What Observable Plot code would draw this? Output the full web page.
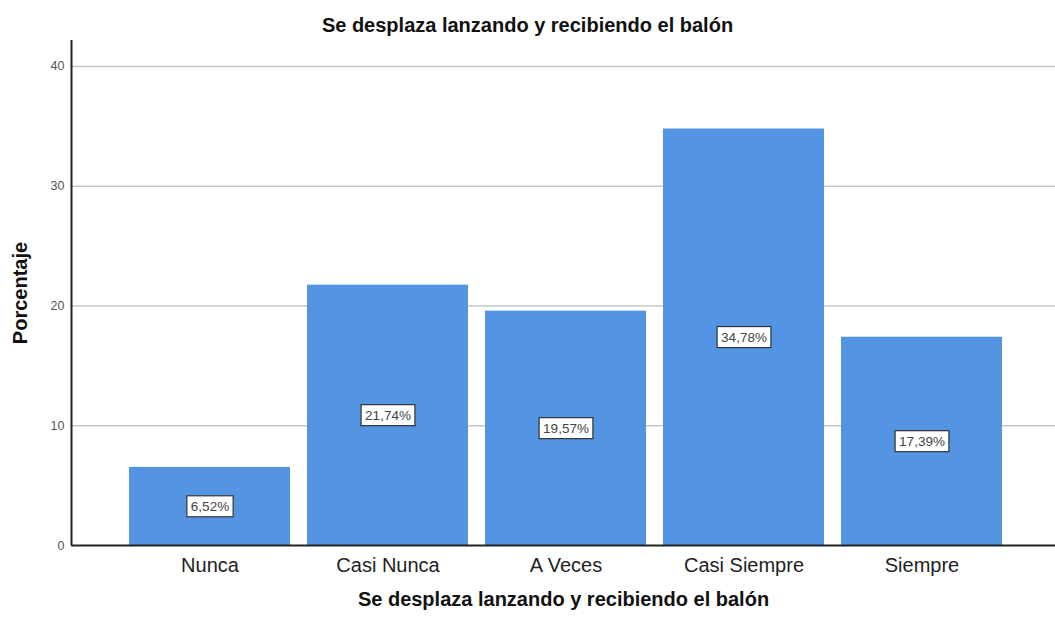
<!DOCTYPE html>
<html><head><meta charset="utf-8">
<script src="https://cdn.jsdelivr.net/npm/d3@7"></script>
<script src="https://cdn.jsdelivr.net/npm/@observablehq/plot@0.6"></script>
<style>
body{margin:0;background:#fff;font-family:Arial,"Liberation Sans",sans-serif;}
#title{width:1055px;height:40px;box-sizing:border-box;padding-top:13px;text-align:center;font-weight:bold;font-size:20px;line-height:24px;color:#111;}
</style></head>
<body>
<div id="title">Se desplaza lanzando y recibiendo el balón</div>
<div id="chart"></div>
<script>
const categories = ["Nunca", "Casi Nunca", "A Veces", "Casi Siempre", "Siempre"];
const percentages = [6.52, 21.74, 19.57, 34.78, 17.39];
const valueLabels = ["6,52%", "21,74%", "19,57%", "34,78%", "17,39%"];
const yTicks = [0, 10, 20, 30, 40];
const xTitle = "Se desplaza lanzando y recibiendo el balón";
const yTitle = "Porcentaje";

const data = categories.map((c, i) => ({category: c, value: percentages[i], label: valueLabels[i]}));

const chart = Plot.plot({
  width: 1055, height: 577,
  marginLeft: 71, marginRight: 0, marginTop: 0, marginBottom: 72,
  style: {fontFamily: "Arial, 'Liberation Sans', sans-serif", background: "#fff"},
  x: {domain: categories, range: [74, 1058], paddingInner: 0.093, paddingOuter: 0.3, label: null},
  y: {domain: [0, 42.17], label: null},
  marks: [
    Plot.ruleY(yTicks.filter(d => d > 0), {stroke: "#c6c6c6", strokeWidth: 1.5}),
    Plot.barY(data, {x: "category", y: "value", fill: "#5395e3"}),
    Plot.axisY(yTicks, {tickSize: 0, tickPadding: 7, fontSize: 12.5, fill: "#555", label: null}),
    Plot.axisX({tickSize: 0, tickPadding: 12, fontSize: 20, fill: "#222", label: null}),
    Plot.ruleY([0], {stroke: "#222", strokeWidth: 2}),
    Plot.ruleX([0], {x: null, dx: 71 - (71 + 1055) / 2, stroke: "#222", strokeWidth: 2}),
    Plot.text(data, {x: "category", y: d => d.value / 2, text: "label", fontSize: 13.5, fill: "#444"}),
    Plot.text([xTitle], {frameAnchor: "bottom", dy: 60, fontWeight: "bold", fontSize: 20, fill: "#111"}),
    Plot.text([yTitle], {frameAnchor: "left", textAnchor: "middle", dx: -51, rotate: -90, fontWeight: "bold", fontSize: 20, fill: "#111"})
  ]
});
document.getElementById("chart").appendChild(chart);

// white boxes behind the value labels
d3.select(chart).selectAll('g[aria-label="text"]').filter((d, i) => i === 0).selectAll("text").each(function () {
  const bb = this.getBBox();
  d3.select(this.parentNode).insert("rect", () => this)
    .attr("x", bb.x - 4).attr("y", bb.y - 3)
    .attr("width", bb.width + 8).attr("height", bb.height + 6)
    .attr("transform", this.getAttribute("transform"))
    .attr("fill", "#fff").attr("stroke", "#333").attr("stroke-width", 1.2);
});
</script>
</body></html>
